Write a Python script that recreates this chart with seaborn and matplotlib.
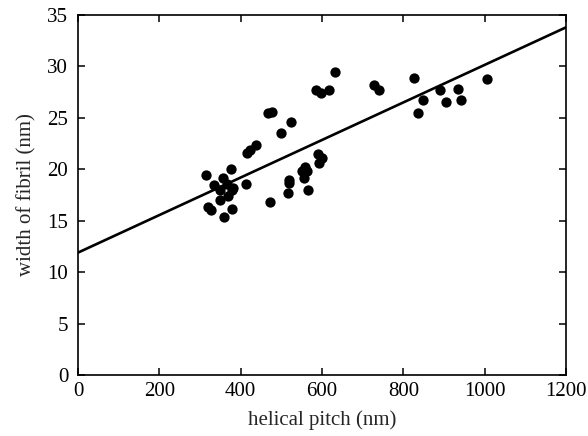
import matplotlib
matplotlib.use("Agg")
import matplotlib.pyplot as plt
import seaborn as sns
import numpy as np
import pandas as pd

pitch = [315, 320, 326, 334, 349, 349, 356, 360, 366, 370, 376, 378, 378, 380,
         412, 415, 423, 437, 468, 472, 476, 500, 518, 518, 517, 524, 550, 556,
         558, 562, 565, 584, 591, 593, 597, 599, 616, 632, 728, 739, 825, 835,
         848, 890, 906, 934, 942, 1006]
width = [19.4, 16.3, 16.0, 18.5, 18.0, 17.0, 19.2, 15.4, 18.6, 17.4, 20.0, 18.0,
         16.1, 18.2, 18.6, 21.6, 21.9, 22.4, 25.5, 16.8, 25.6, 23.5, 19.0, 18.7,
         17.7, 24.6, 19.8, 19.2, 20.2, 19.8, 18.0, 27.7, 21.5, 20.6, 27.4, 21.1,
         27.7, 29.5, 28.2, 27.7, 28.9, 25.5, 26.7, 27.7, 26.5, 27.8, 26.7, 28.8]
fit_x = [0, 1200]
fit_y = [11.9, 33.8]

xticks = [0, 200, 400, 600, 800, 1000, 1200]
yticks = [0, 5, 10, 15, 20, 25, 30, 35]

sns.set_style("ticks")
plt.rcParams['font.family'] = ['Liberation Serif', 'DejaVu Serif']

df = pd.DataFrame({"pitch": pitch, "width": width})
fit = pd.DataFrame({"x": fit_x, "y": fit_y})

fig = plt.figure(figsize=(5.88, 4.36), dpi=100)
ax = fig.add_axes([0.1327, 0.1399, 0.8299, 0.8257])
sns.lineplot(data=fit, x="x", y="y", color="black", linewidth=1.9, ax=ax)
sns.scatterplot(data=df, x="pitch", y="width", color="black", s=55,
                edgecolor="black", linewidth=0, ax=ax, zorder=3)

ax.set_xlim(0, 1200)
ax.set_ylim(0, 35)
ax.set_xticks(xticks)
ax.set_yticks(yticks)
ax.tick_params(direction="in", length=5, width=1.1, labelsize=15,
               top=True, right=True, labeltop=False, labelright=False,
               colors="black")
ax.tick_params(axis="x", pad=5)
ax.tick_params(axis="y", pad=7)
for s in ax.spines.values():
    s.set_linewidth(1.2)
    s.set_color("black")
ax.set_xlabel("helical pitch (nm)", fontsize=15, labelpad=7)
ax.set_ylabel("width of fibril (nm)", fontsize=15, labelpad=8)
fig.savefig("out.png", dpi=100)
